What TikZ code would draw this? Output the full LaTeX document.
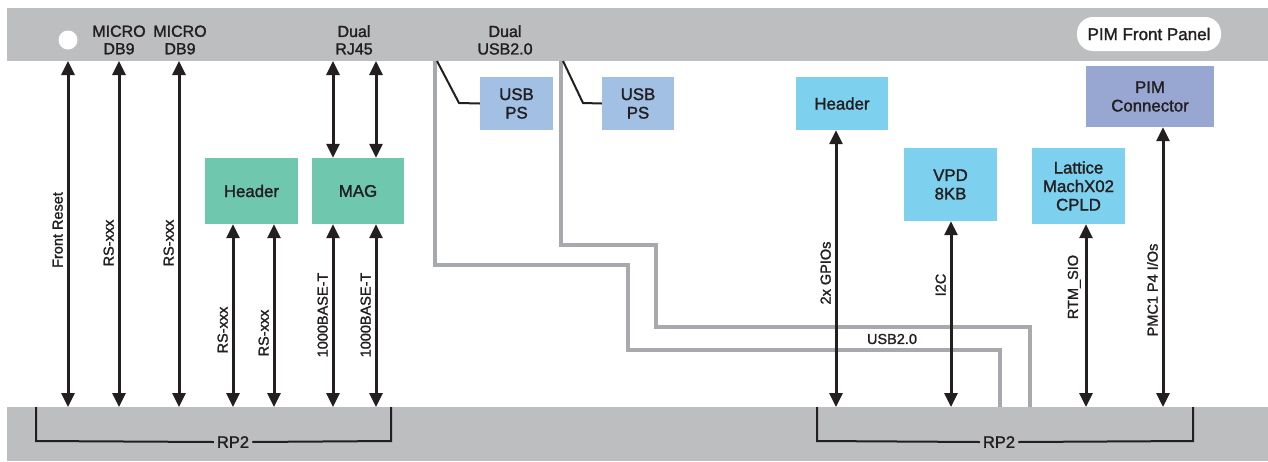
\documentclass[tikz,border=0pt]{standalone}
\usepackage{fontspec}
\setmainfont{Liberation Sans}
\newfontfamily\medf{Liberation Sans}[FakeBold=1.6]
\usetikzlibrary{arrows.meta}
\definecolor{barg}{HTML}{BCBEC0}
\definecolor{usbg}{HTML}{A7A9AC}
\definecolor{grn}{HTML}{6FC8AE}
\definecolor{usbps}{HTML}{A2BFE4}
\definecolor{cyn}{HTML}{7DD1EF}
\definecolor{pim}{HTML}{97A7D2}
\definecolor{ink}{HTML}{231F20}
\begin{document}
\begin{tikzpicture}[x=1pt,y=-1pt,
  box/.style={align=center, inner sep=0pt, text=ink, font=\medf\fontsize{16.8}{18.5}\selectfont},
  toplbl/.style={align=center, inner sep=0pt, text=ink, font=\medf\fontsize{16}{17.5}\selectfont},
  lbl/.style={rotate=90, anchor=south, inner sep=3pt, text=ink, font=\medf\fontsize{14.5}{16}\selectfont},
  dbl/.style={line width=3pt, draw=ink, {Triangle[length=14pt,width=13pt]}-{Triangle[length=14pt,width=13pt]}},
  usb/.style={line width=4pt, draw=usbg, line join=miter},
  lead/.style={line width=2pt, draw=ink, line join=miter},
  brk/.style={line width=2pt, draw=ink}]
\useasboundingbox (0,0) rectangle (1268,461);
% bars
\fill[barg] (7,8) rectangle (1268,61);
\fill[barg] (7,407) rectangle (1268,461);
\fill[white] (68,40) circle (9.5);
% top labels
\node[toplbl] (m1) at (119,40) {MICRO\\DB9};
\node[toplbl] (m2) at (180,40) {MICRO\\DB9};
\node[toplbl] (rj) at (354,40) {Dual\\RJ45};
\node[toplbl] (du) at (505,40) {Dual\\USB2.0};
\node[fill=white, rounded corners=16pt, minimum width=144pt, minimum height=34pt, inner sep=0pt, text=ink, font=\medf\fontsize{17}{18}\selectfont] (pfp) at (1149,34) {PIM Front Panel};
% boxes
\node[box, fill=grn, minimum width=93pt, minimum height=66pt] (hdrL) at (251.5,191) {Header};
\node[box, fill=grn, minimum width=92pt, minimum height=66pt] (mag) at (358,191) {MAG};
\node[box, fill=usbps, minimum width=73pt, minimum height=53pt] (ps1) at (516.5,103.5) {USB\\PS};
\node[box, fill=usbps, minimum width=72pt, minimum height=53pt] (ps2) at (638,103.5) {USB\\PS};
\node[box, fill=cyn, minimum width=92pt, minimum height=53pt] (hdrR) at (842,103.5) {Header};
\node[box, fill=cyn, minimum width=93pt, minimum height=73pt] (vpd) at (950.5,184.5) {VPD\\8KB};
\node[box, fill=cyn, minimum width=93pt, minimum height=76pt] (cpld) at (1078.5,186) {Lattice\\MachX02\\CPLD};
\node[box, fill=pim, minimum width=128pt, minimum height=61pt] (pimc) at (1150,96.5) {PIM\\Connector};
% coordinates
\foreach \n/\x in {a/68,b/119,c/179,d/333,e/376,u1/435,u2/561}{\coordinate (t\n) at (\x,61);}
\foreach \n/\x in {a/68,b/119,c/179,f/233,g/274,d/333,e/376,h/836,i/951,j/1086,k/1163}{\coordinate (b\n) at (\x,407);}
% USB grey lines
\coordinate (bu1) at (1000,407);
\coordinate (bu2) at (1030,407);
\draw[usb] (tu1) -- (435,265) -- (628,265) -- (628,350) -- (1000,350) -- (bu1);
\draw[usb] (tu2) -- (561,245) -- (656,245) -- (656,327) -- (1030,327) -- (bu2);
\node[inner sep=0pt, text=ink, font=\medf\fontsize{14.5}{16}\selectfont] (usblbl) at (892,339) {USB2.0};
\draw[lead] (437,61) -- (459,103) -- (ps1.west);
\draw[lead] (563,61) -- (583,103) -- (ps2.west);
% arrows
\draw[dbl] (ta) -- (ba);
\draw[dbl] (tb) -- (bb);
\draw[dbl] (tc) -- (bc);
\draw[dbl] (td) -- (td |- mag.north);
\draw[dbl] (te) -- (te |- mag.north);
\draw[dbl] (bf |- hdrL.south) -- (bf);
\draw[dbl] (bg |- hdrL.south) -- (bg);
\draw[dbl] (bd |- mag.south) -- (bd);
\draw[dbl] (be |- mag.south) -- (be);
\draw[dbl] (bh |- hdrR.south) -- (bh);
\draw[dbl] (bi |- vpd.south) -- (bi);
\draw[dbl] (bj |- cpld.south) -- (bj);
\draw[dbl] (bk |- pimc.south) -- (bk);
% arrow labels
\node[lbl] (l1) at (66,230) {Front Reset};
\node[lbl] (l2) at (117,243) {RS-xxx};
\node[lbl] (l3) at (177,243) {RS-xxx};
\node[lbl] (l4) at (231,330) {RS-xxx};
\node[lbl] (l5) at (272,333) {RS-xxx};
\node[lbl] (l6) at (331,315) {1000BASE-T};
\node[lbl] (l7) at (374,315) {1000BASE-T};
\node[lbl] (l8) at (834,273) {2x GPIOs};
\node[lbl] (l9) at (949,285) {I2C};
\node[lbl] (l10) at (1084,287) {RTM\_SIO};
\node[lbl] (l11) at (1161,290) {PMC1 P4 I/Os};
% RP2 brackets
\node[inner sep=3pt, text=ink, font=\medf\fontsize{16.5}{17}\selectfont] (rp1) at (233,442) {RP2};
\node[inner sep=3pt, text=ink, font=\medf\fontsize{16.5}{17}\selectfont] (rp2) at (999,442) {RP2};
\draw[brk] (rp1.west) -- (36,441) -- (36,407);
\draw[brk] (rp1.east) -- (391,441) -- (391,407);
\draw[brk] (rp2.west) -- (817,441) -- (817,407);
\draw[brk] (rp2.east) -- (1193,441) -- (1193,407);
\end{tikzpicture}
\end{document}
